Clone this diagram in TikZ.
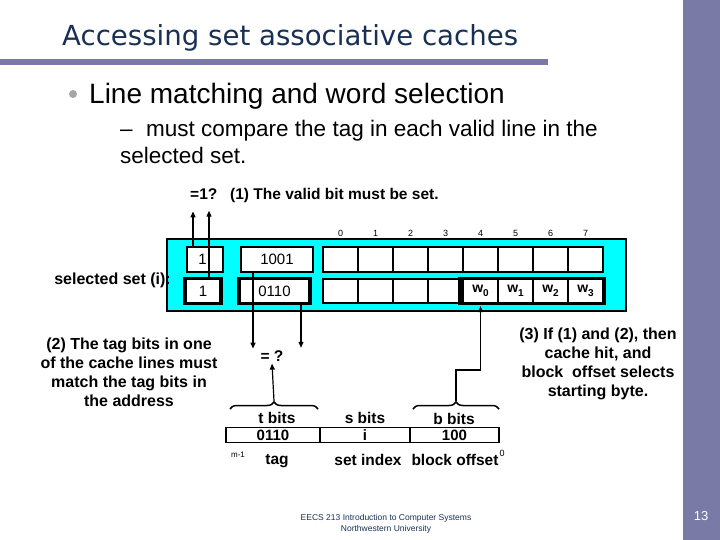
\documentclass[tikz,border=0pt]{standalone}
\usepackage{fontspec}
\setmainfont{Liberation Sans}
\newfontfamily\titlefont{DejaVu Sans}
\usetikzlibrary{arrows.meta,decorations.pathreplacing}
\definecolor{barc}{RGB}{122,122,166}
\definecolor{titlec}{RGB}{24,48,84}
\definecolor{cyanc}{RGB}{0,255,255}
\newcommand{\fs}[1]{\fontsize{#1}{#1}\selectfont}
\begin{document}
\begin{tikzpicture}[x=1pt,y=-1pt,
  cellbox/.style={draw=black,fill=white,line width=1.2pt,inner sep=0pt,font=\fs{15}},
  thickbox/.style={draw=black,fill=white,line width=3.5pt,inner sep=0pt,font=\fs{15}},
  fieldbox/.style={draw=black,line width=1.2pt,minimum height=15pt,inner sep=0pt,font=\bfseries\fs{15}},
  lbl/.style={inner sep=0pt,font=\bfseries\fs{15.5}},
  note/.style={inner sep=0pt,font=\bfseries\fs{16},align=center},
  arr/.style={line width=1.2pt,-{Triangle[width=5pt,length=6pt]}},
  brc/.style={line width=1.5pt,decorate,decoration={brace,amplitude=7pt}}]
\useasboundingbox (0,0) rectangle (720,540);
% slide decoration
\fill[barc] (683,0) rectangle (720,540);
\fill[barc] (0,59.5) rectangle (548,65.5);
\node[anchor=base west,inner sep=0pt,font=\titlefont\fs{27.6},text=titlec] (title) at (62,46) {Accessing set associative caches};
\fill[gray!70] (73,94) circle (4);
\node[anchor=base west,inner sep=0pt,font=\fs{28}] (b1) at (89,104) {Line matching and word selection};
\node[anchor=base west,inner sep=0pt,font=\fs{22.5}] (d1) at (120,137) {--};
\node[anchor=base west,inner sep=0pt,font=\fs{22.5}] (b2) at (146,137) {must compare the tag in each valid line in the};
\node[anchor=base west,inner sep=0pt,font=\fs{22.5}] (b3) at (120,164) {selected set.};
% valid bit note
\node[anchor=base west,lbl] (eq1) at (190,200) {=1?};
\node[anchor=base west,lbl] (n1) at (230,200) {(1) The valid bit must be set.};
% cache set box
\fill[cyanc,draw=black,line width=1.5pt] (167,239) rectangle (626,311);
\foreach \k in {0,...,7} {
  \node[inner sep=0pt,font=\fs{9}] (col\k) at (340.5+35*\k,233) {\k};
  \node[cellbox,minimum width=35pt,minimum height=25pt] (ca\k) at (340.5+35*\k,259.5) {};
  \node[cellbox,minimum width=35pt,minimum height=24pt] (cb\k) at (340.5+35*\k,291) {};
}
\node[cellbox,minimum width=36pt,minimum height=25pt] (v1) at (205,259.5) {};
\node[inner sep=0pt,font=\fs{15}] (v1t) at (202.5,259.5) {1};
\node[cellbox,minimum width=72pt,minimum height=25pt] (t1) at (277,259.5) {1001};
\node[thickbox,minimum width=36pt,minimum height=25pt] (v2) at (203,291) {1};
\node[thickbox,minimum width=71pt,minimum height=25pt] (t2) at (274.5,291) {0110};
\draw[line width=3.5pt] (460,278.5) rectangle (604,303.5);
\foreach \k/\w in {4/0,5/1,6/2,7/3} {
  \node[inner sep=0pt,font=\bfseries\fs{14}] (w\w) at (340.5+35*\k,291) {w\raisebox{-3.5pt}{\fs{10}\w}};
}
\node[anchor=east,lbl,font=\bfseries\fs{16}] (sel) at (171,280) {selected set (i):};
% arrows from valid bits
\draw[arr] ([xshift=-12pt]v1.north) -- ++(0,-35);
\draw[arr] ([xshift=6pt]v2.north) -- ++(0,-66);
% comparison
\node[lbl] (eqq) at (272,356) {= ?};
\draw[arr] ([xshift=-24pt]t1.south) -- ++(0,76);
\draw[arr] ([xshift=26.5pt]t2.south) -- ++(0,42.5);
% address fields
\node[fieldbox,minimum width=94pt] (ftag) at (273,435) {0110};
\node[fieldbox,minimum width=90pt] (fset) at (365,435) {i};
\node[fieldbox,minimum width=89pt] (foff) at (454.5,435) {100};
\node[lbl] (tb) at (277,418) {t bits};
\node[lbl] (sb) at (365,418) {s bits};
\node[lbl] (bb) at (454,419) {b bits};
\node[lbl] (tg) at (277,461) {tag};
\node[lbl] (si) at (368,460) {set index};
\node[lbl] (bo) at (455,460) {block offset};
\node[inner sep=0pt,font=\fs{8}] (m1) at (238,455) {m-1};
\node[inner sep=0pt,font=\fs{9}] (z0) at (502,453) {0};
% braces
\draw[brc] (230,409) -- (318,409);
\draw[brc] (413,409) -- (499,409);
\coordinate (tbr) at (274,401);
\coordinate (bbr) at (456,401);
\draw[arr] (tbr) -- ([yshift=-2pt]eqq.south);
\draw[arr] (bbr) -- ++(0,-31) -| ([yshift=-2.5pt]cb4.south);
% notes
\node[note] (n2) at (129,372) {(2) The tag bits in one\\[3pt]of the cache lines must\\[3pt]match the tag bits in\\[3pt]the address};
\node[note] (n3) at (598,364) {(3) If (1) and (2), then\\[3pt]cache hit, and\\[3pt]block\ \ offset selects\\[3pt]starting byte.};
% footer
\node[inner sep=0pt,font=\fs{8.5},text=titlec,align=center] (foot) at (386,524) {EECS 213 Introduction to Computer Systems\\[2pt]Northwestern University};
\node[inner sep=0pt,font=\fs{13},text=white] (pg) at (701,516) {13};
\end{tikzpicture}
\end{document}
